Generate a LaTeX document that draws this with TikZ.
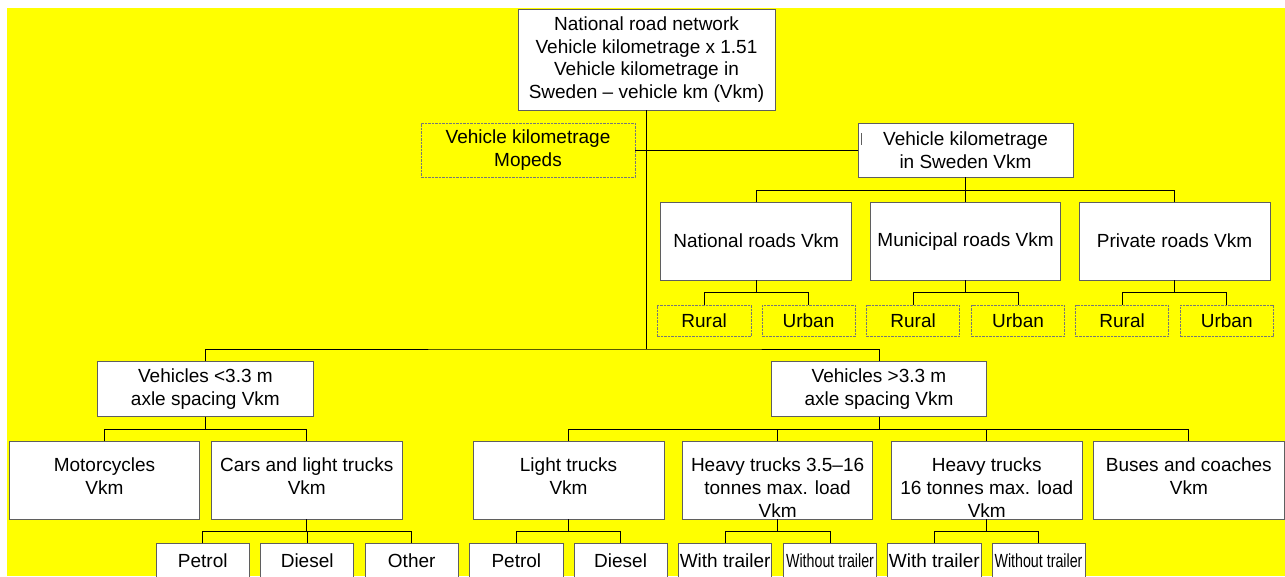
\documentclass[tikz,border=0pt]{standalone}
\usepackage{fontspec}
\setmainfont{Liberation Sans}
\usepackage{graphicx}
\definecolor{bg}{RGB}{255,255,0}
\definecolor{edge}{RGB}{95,95,95}
\newcommand{\fs}{\fontsize{19}{22.8}\selectfont}
\tikzset{
  box/.style={draw=edge, fill=white, line width=0.9pt, inner sep=0pt, align=center, font=\fs},
  dbox/.style={box, fill=none, draw=edge!85, dash pattern=on 2.5pt off 1pt},
  txt/.style={inner sep=0pt, align=center, font=\fs},
  conn/.style={draw=black, line width=0.9pt},
}
% box: [style]{name}{x1}{y1}{x2}{y2}{text}
\newcommand{\bx}[7][box]{\node[#1, minimum width={(#5)-(#3)}, minimum height={(#6)-(#4)}] (#2) at ({((#3)+(#5))/2},{((#4)+(#6))/2}) {#7};}
% top-aligned text inside a box
\newcommand{\tx}[2]{\node[txt, anchor=north] (#1-t) at ([yshift=-17pt]#1.north) {#2};}
% fork: parent, junction y, first child, last child
\newcommand{\fork}[4]{%
  \coordinate (#1-h) at (0,#2);
  \coordinate (#1-j) at (#1.south |- #1-h);
  \draw[conn] (#1.south) -- (#1-j);
  \draw[conn] (#3.north) |- (#1-j) -| (#4.north);}
\newcommand{\drop}[2]{\draw[conn] (#2.north |- #1-j) -- (#2.north);}
\begin{document}
\begin{tikzpicture}[x=1pt,y=-1pt]
\useasboundingbox (0,0) rectangle (1285,576);
\clip (0,0) rectangle (1285,576);
\fill[bg] (7,8) rectangle (1285,576);

% top
\bx{top}{518}{9}{775}{110}{\fontsize{19}{22}\selectfont National road network\\Vehicle kilometrage x 1.51\\Vehicle kilometrage in\\Sweden – vehicle km (Vkm)}
\bx[dbox]{mop}{421}{123}{635}{177}{Vehicle kilometrage\\Mopeds}
\bx{swe}{858}{123}{1073}{177}{Vehicle kilometrage\\in Sweden Vkm}
\draw[edge, line width=0.6pt] (861,133) -- (861,145);

% road types
\bx{nat}{660.6}{202.3}{851.8}{280}{National roads Vkm}
\bx{mun}{870.4}{202.3}{1060.8}{280}{Municipal roads Vkm}
\bx{pri}{1079}{202.3}{1270}{280}{Private roads Vkm}
\bx[dbox]{nr}{657.3}{305}{751}{336.7}{Rural}
\bx[dbox]{nu}{762}{305}{855}{336.7}{Urban}
\bx[dbox]{mr}{866.7}{305}{959.6}{336.7}{Rural}
\bx[dbox]{mu}{971.6}{305}{1064.5}{336.7}{Urban}
\bx[dbox]{pr}{1075.6}{305}{1168.6}{336.7}{Rural}
\bx[dbox]{pu}{1180}{305}{1273.5}{336.7}{Urban}

% axle spacing
\bx{lt}{97.8}{361.7}{313}{416.3}{Vehicles <3.3 m\\axle spacing Vkm}
\bx{gt}{771.2}{361.7}{986.8}{416.3}{Vehicles >3.3 m\\axle spacing Vkm}

% vehicle types
\bx{mc}{9.1}{441.3}{199.8}{519}{}
\bx{car}{211.4}{441.3}{402.2}{519}{}
\bx{ltr}{473}{441.3}{664}{519}{}
\bx{hA}{682.4}{441.3}{872.8}{519}{}
\bx{hB}{891.3}{441.3}{1082.2}{519}{}
\bx{bus}{1093.7}{441.3}{1284}{519}{}
\tx{mc}{Motorcycles\\Vkm}
\tx{car}{Cars and light trucks\\Vkm}
\tx{ltr}{Light trucks\\Vkm}
\tx{hA}{Heavy trucks 3.5–16\\tonnes max. load\\Vkm}
\tx{hB}{Heavy trucks\\16 tonnes max. load\\Vkm}
\tx{bus}{Buses and coaches\\Vkm}

% fuel / trailer
\bx{pA}{156.3}{543.3}{249.2}{578}{Petrol}
\bx{dA}{260.8}{543.3}{353.6}{578}{Diesel}
\bx{oA}{365.3}{543.3}{458.1}{578}{Other}
\bx{pB}{469.7}{543.3}{563}{578}{Petrol}
\bx{dB}{574.2}{543.3}{667}{578}{Diesel}
\bx{wA}{678.7}{543.3}{771.6}{578}{With trailer}
\bx{woA}{783.6}{543.3}{876.5}{578}{\scalebox{0.75}[1]{Without trailer}}
\bx{wB}{887.6}{543.3}{981}{578}{With trailer}
\bx{woB}{992}{543.3}{1085}{578}{\scalebox{0.75}[1]{Without trailer}}

% connectors
\draw[conn] (mop.east) -- (mop.east -| swe.west);
\fork{top}{349}{lt}{gt}
\fork{swe}{190.7}{nat}{pri}
\drop{swe}{mun}
\fork{nat}{292.7}{nr}{nu}
\fork{mun}{292.7}{mr}{mu}
\fork{pri}{292.7}{pr}{pu}
\fork{lt}{429.3}{mc}{car}
\fork{gt}{429.3}{ltr}{bus}
\drop{gt}{hA}
\drop{gt}{hB}
\fork{car}{531.3}{pA}{oA}
\drop{car}{dA}
\fork{ltr}{531.3}{pB}{dB}
\fork{hA}{531.3}{wA}{woA}
\fork{hB}{531.3}{wB}{woB}
\end{tikzpicture}
\end{document}
